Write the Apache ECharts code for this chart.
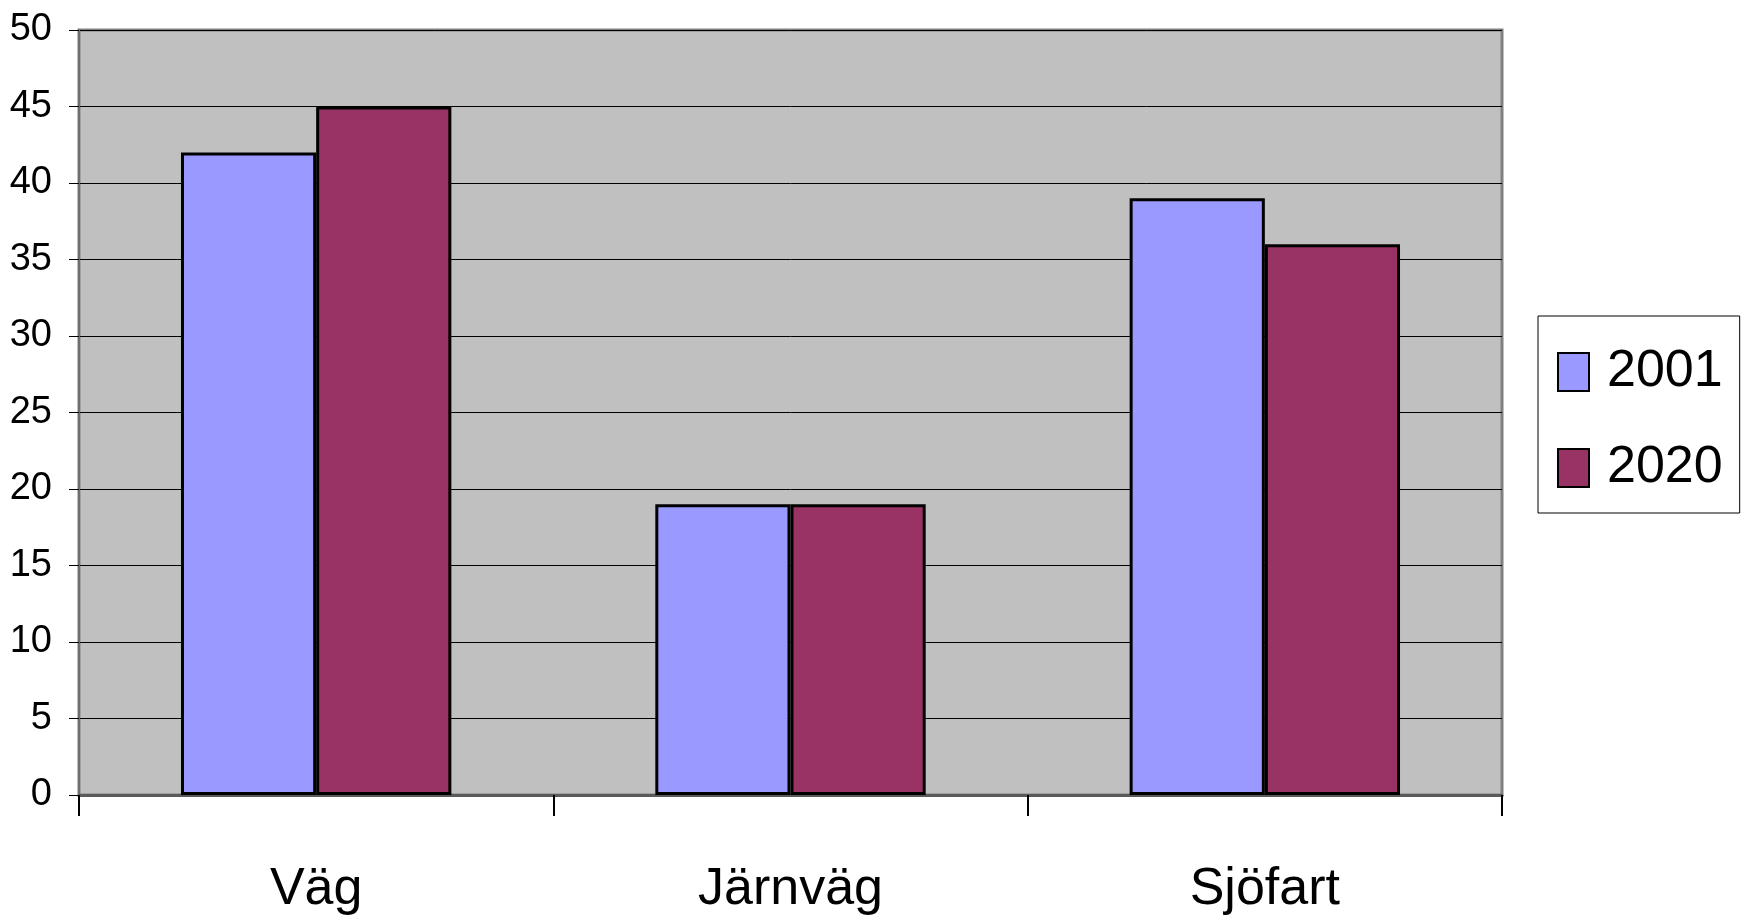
<!DOCTYPE html>
<html>
<head>
<meta charset="utf-8">
<title>Väg, Järnväg, Sjöfart</title>
<script src="https://cdn.jsdelivr.net/npm/echarts@6/dist/echarts.min.js"></script>
<style>
  html, body { margin: 0; padding: 0; background: #ffffff; }
  #chart { width: 1747px; height: 922px; }
</style>
</head>
<body>
<div id="chart"></div>
<script>
// Transport modes and their shares for the two years
const categories = ['Väg', 'Järnväg', 'Sjöfart'];
const values2001 = [42, 19, 39];
const values2020 = [45, 19, 36];
const yTicks = { min: 0, max: 50, interval: 5 };

const FONT = '"Liberation Sans", Arial, sans-serif';

const chart = echarts.init(document.getElementById('chart'), null, { renderer: 'canvas' });

chart.setOption({
  animation: false,
  backgroundColor: '#ffffff',
  grid: {
    left: 79, top: 30, right: 245, bottom: 127,
    show: true,
    backgroundColor: '#c0c0c0',
    borderColor: '#808080',
    borderWidth: 3
  },
  legend: {
    orient: 'vertical',
    left: 1538, top: 316,
    padding: [30, 17, 19, 19],
    itemGap: 44,
    itemWidth: 31, itemHeight: 38,
    backgroundColor: '#ffffff',
    borderColor: '#000000',
    borderWidth: 1,
    icon: 'rect',
    textStyle: { fontFamily: FONT, fontSize: 52, color: '#000', padding: [0, 0, 0, 13] },
    data: ['2001', '2020']
  },
  xAxis: {
    type: 'category',
    data: categories,
    boundaryGap: true,
    axisLine: { show: true, lineStyle: { color: '#5a5a5a', width: 3 } },
    axisTick: { show: true, length: 21, lineStyle: { color: '#000', width: 2 } },
    axisLabel: { fontFamily: FONT, fontSize: 52, color: '#000', margin: 69 },
    splitLine: { show: false }
  },
  yAxis: {
    type: 'value',
    min: yTicks.min, max: yTicks.max, interval: yTicks.interval,
    axisLine: { show: true, lineStyle: { color: '#6e6e6e', width: 2 } },
    axisTick: { show: true, length: 10, lineStyle: { color: '#000', width: 1 } },
    axisLabel: { fontFamily: FONT, fontSize: 38, color: '#000', margin: 27 },
    splitLine: { show: true, lineStyle: { color: '#000', width: 1 } }
  },
  series: [
    {
      name: '2001', type: 'bar', data: values2001,
      barGap: '0%', barCategoryGap: '43%',
      itemStyle: { color: '#9999ff', borderColor: '#000', borderWidth: 3 }
    },
    {
      name: '2020', type: 'bar', data: values2020,
      barGap: '0%', barCategoryGap: '43%',
      itemStyle: { color: '#993366', borderColor: '#000', borderWidth: 3 }
    }
  ]
});
</script>
</body>
</html>
